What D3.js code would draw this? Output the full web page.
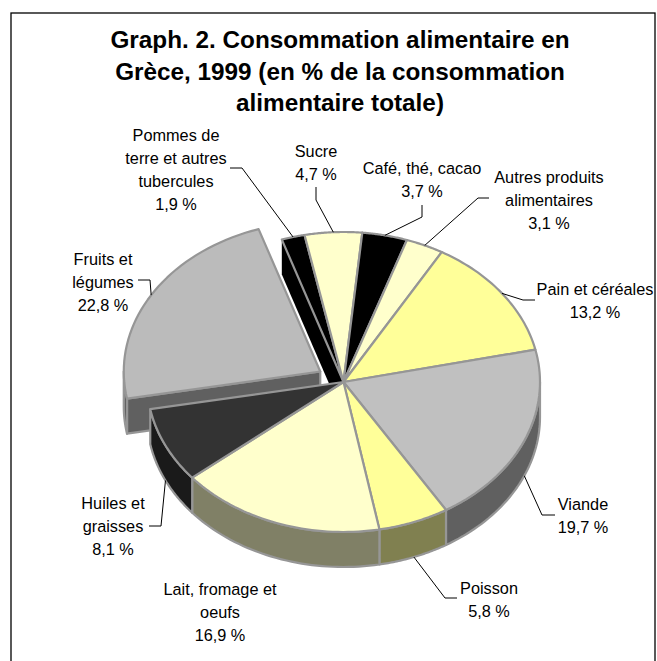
<!DOCTYPE html>
<html><head><meta charset="utf-8">
<script src="https://cdn.jsdelivr.net/npm/d3@7"></script>
<style>html,body{margin:0;padding:0;background:#fff}svg{display:block}text{font-family:"Liberation Sans",Arial,sans-serif}</style>
</head><body><svg id="c" width="657" height="661"></svg>
<script>
const titleLines = ["Graph. 2. Consommation alimentaire en","Grèce, 1999 (en % de la consommation","alimentaire totale)"];
const categories = ["Pain et céréales","Viande","Poisson","Lait, fromage et oeufs","Huiles et graisses","Fruits et légumes","Pommes de terre et autres tubercules","Sucre","Café, thé, cacao","Autres produits alimentaires"];
const values = [13.2,19.7,5.8,16.9,8.1,22.8,1.9,4.7,3.7,3.1];
const valueLabels = ["13,2 %","19,7 %","5,8 %","16,9 %","8,1 %","22,8  %","1,9  %","4,7 %","3,7 %","3,1 %"];
const labelLines = [["Pain et céréales"],["Viande"],["Poisson"],["Lait, fromage et","oeufs"],["Huiles et","graisses"],["Fruits et","légumes"],["Pommes de","terre et autres","tubercules"],["Sucre"],["Café, thé, cacao"],["Autres produits","alimentaires"]];
const topColors = ["#FFFF99","#C0C0C0","#FFFF99","#FFFFCC","#333333","#BBBBBB","#000000","#FFFFCC","#000000","#FFFFCC"];
const wallColors = ["#808050","#606060","#808050","#808066","#1A1A1A","#606060","#000000","#808066","#000000","#808066"];
const exploded = [0,0,0,0,0,27,0,0,0,0];
// label layout: [centre x, first baseline y]
const labelPos = [[595,295],[583,510],[489,594],[220,595],[113,509],[103,265],[176,141],[316,157],[422,174],[549,183]];
// leader elbows: knee and the end near the text
const leaderPts = [[[523,300],[535,300]],[[542,515],[555,515]],[[445,598],[457,598]],null,[[161,526],[149,526]],[[150,280],[138,280]],[[242,168],[230,168]],[[316,200],[316,187]],[[422,217],[422,205]],[[478,198],[489,198]]];

const W=657,H=661,cx=343.5,cy=382,rx=196.5,ry=150,depth=35,startDeg=30;
const svg=d3.select("#c");
svg.append("rect").attr("x",11).attr("y",13).attr("width",644).attr("height",660).attr("fill","#fff").attr("stroke","#000").attr("stroke-width",1.3);

const pie=d3.pie().sort(null).value(d=>d).startAngle(startDeg*Math.PI/180).endAngle((startDeg+360)*Math.PI/180);
const arcs=pie(values);
const pt=(a,i,dz=0)=>{const o=exploded[i];const m=(arcs[i].startAngle+arcs[i].endAngle)/2;
  return [cx+rx*Math.sin(a)+o*Math.sin(m), cy-ry*Math.cos(a)-o*(ry/rx)*Math.cos(m)+dz];};
const tip=(i,dz=0)=>{const o=exploded[i];const m=(arcs[i].startAngle+arcs[i].endAngle)/2;
  return [cx+o*Math.sin(m),cy-o*(ry/rx)*Math.cos(m)+dz];};
const samples=(a0,a1)=>d3.range(0,41).map(k=>a0+(a1-a0)*k/40);
const line=d3.line();
const stroke="#969696",sw=2.2;
const g=svg.append("g").attr("stroke",stroke).attr("stroke-width",sw).attr("stroke-linejoin","round");

function drawSlice(i){
  const d=arcs[i],a0=d.startAngle,a1=d.endAngle;
  const face=a=>[tip(i),pt(a,i),pt(a,i,depth),tip(i,depth)];
  if(exploded[i]>0){ g.append("path").attr("d",line(face(a0))+"Z").attr("fill",wallColors[i]); }
  if(i===6){ g.append("path").attr("d",line(face(a0))+"Z").attr("fill",wallColors[i]).attr("stroke","none"); }
  const lo=Math.PI/2, hi=3*Math.PI/2;
  const A=Math.max(a0,lo),B=Math.min(a1,hi);
  if(B>A){
    const top=samples(A,B).map(a=>pt(a,i));
    const bot=samples(A,B).map(a=>pt(a,i,depth)).reverse();
    g.append("path").attr("d",line(top.concat(bot))+"Z").attr("fill",wallColors[i]);
  }
  g.append("path").attr("d",line([tip(i)].concat(samples(a0,a1).map(a=>pt(a,i))))+"Z").attr("fill",topColors[i]);
}
[5,6,7,8,9,0,1,2,3,4].forEach(drawSlice);

const ll=svg.append("g").attr("fill","none").attr("stroke","#000").attr("stroke-width",1);
arcs.forEach((d,i)=>{
  if(!leaderPts[i])return;
  const m=(d.startAngle+d.endAngle)/2;
  const front=Math.cos(m)<0;
  const p=pt(m,i,front?depth:0);
  ll.append("path").attr("d",line([p].concat(leaderPts[i])));
});

svg.append("g").selectAll("text").data(titleLines).join("text")
  .attr("x",340).attr("y",(d,i)=>48+i*31.5).attr("text-anchor","middle")
  .attr("font-size",24.3).attr("font-weight","bold").attr("fill","#000").text(d=>d);

categories.forEach((c,i)=>{
  const rows=labelLines[i].concat([valueLabels[i]]);
  svg.append("g").selectAll("text").data(rows).join("text")
    .attr("x",labelPos[i][0]).attr("y",(d,k)=>labelPos[i][1]+k*23)
    .attr("text-anchor","middle").attr("font-size",16.3).attr("fill","#000").text(d=>d);
});
</script></body></html>
